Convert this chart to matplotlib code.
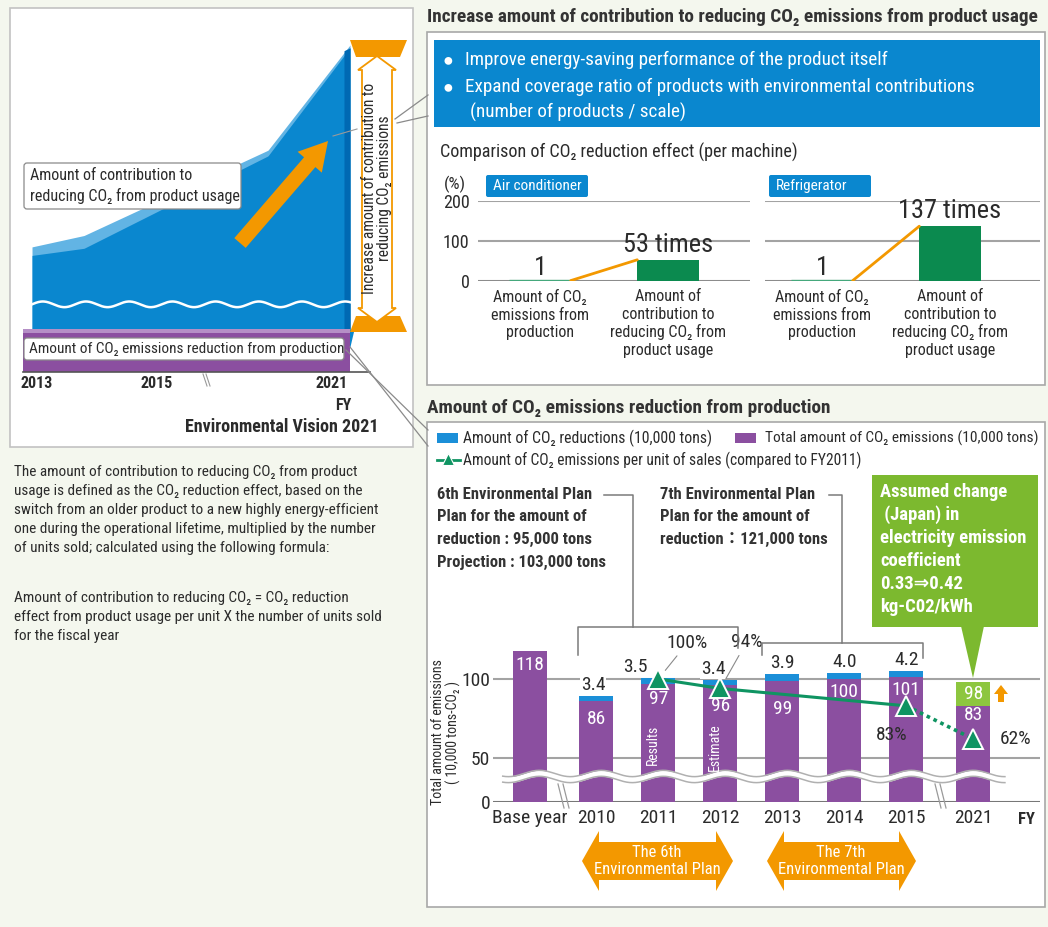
import numpy as np
import matplotlib
matplotlib.use("Agg")
import matplotlib.pyplot as plt
from matplotlib.patches import Polygon, Rectangle, FancyBboxPatch, FancyArrow

plt.rcParams['font.family'] = ['Liberation Sans Narrow', 'Roboto Condensed', 'Liberation Sans',
                               'DejaVu Sans', 'Noto Sans CJK JP']

# ---- data -------------------------------------------------------------
# Environmental Vision 2021 (schematic area, FY2013 -> FY2021)
vision_steps = [0, 1.3, 5.9, 7.95]
vision_upper = [29, 33, 63, 100]
vision_lower = [26, 28.5, 61, 99]

# comparison of CO2 reduction effect per machine (%)
compare_labels = ["Amount of CO₂\nemissions from\nproduction",
                  "Amount of\ncontribution to\nreducing CO₂ from\nproduct usage"]
aircon_ratio = [1, 53]
fridge_ratio = [1, 137]

# emissions from production (10,000 tons)
years = ["Base year", "2010", "2011", "2012", "2013", "2014", "2015", "2021"]
total_emissions = [118, 86, 97, 96, 99, 100, 101, 83]
co2_reductions = [None, 3.4, 3.5, 3.4, 3.9, 4.0, 4.2, None]
total_2021_adjusted = 98
intensity_years = ["2011", "2012", "2015", "2021"]
intensity_pct = [100, 94, 83, 62]

# ---- style --------------------------------------------------------------
BG = "#f4f7ee"
DARK = "#2b2b2b"
BLUE = "#0a87cf"
LIGHT_BLUE = "#62b4e4"
PURPLE = "#8b4fa0"
RED_BLUE = "#1b8fd8"
GREEN = "#0f9462"
BAR_GREEN = "#0b8a4f"
PALE_GREEN = "#45a87c"
LIME = "#7cb92f"
ORANGE = "#f39800"
GRID = "#a3a3a3"

W, H = 1048, 927
fig = plt.figure(figsize=(W / 100, H / 100), dpi=100)
fig.patch.set_facecolor(BG)
bg = fig.add_axes([0, 0, 1, 1])
fg = fig.add_axes([0, 0, 1, 1], zorder=5)
for a in (bg, fg):
    a.set_xlim(0, W)
    a.set_ylim(H, 0)
    a.axis("off")
fg.patch.set_alpha(0)


def px_axes(x0, y0, x1, y1):
    a = fig.add_axes([x0 / W, 1 - y1 / H, (x1 - x0) / W, (y1 - y0) / H])
    a.set_facecolor("none")
    for s in a.spines.values():
        s.set_visible(False)
    return a


def txt(x, y, s, size, color=DARK, ha="left", va="center", **kw):
    return fg.text(x, y, s, fontsize=size, color=color, ha=ha, va=va, **kw)


def hdouble(x0, x1, yc, body, head, hl, color):
    pts = [(x0, yc), (x0 + hl, yc - head / 2), (x0 + hl, yc - body / 2),
           (x1 - hl, yc - body / 2), (x1 - hl, yc - head / 2), (x1, yc),
           (x1 - hl, yc + head / 2), (x1 - hl, yc + body / 2),
           (x0 + hl, yc + body / 2), (x0 + hl, yc + head / 2)]
    fg.add_patch(Polygon(pts, closed=True, fc=color, ec="none"))


# ---- panels -------------------------------------------------------------
bg.add_patch(Rectangle((10, 8), 403, 439, fc="white", ec="#c2c2c2", lw=1.2))
bg.add_patch(Rectangle((427, 32), 618, 353, fc="white", ec="#a8a8a8", lw=1.2))
bg.add_patch(Rectangle((427, 422), 618, 485, fc="white", ec="#a8a8a8", lw=1.2))

# leader lines between panels
fg.plot([395, 428], [119, 95], color="#8a8a8a", lw=0.9)
fg.plot([397, 428], [123, 116], color="#8a8a8a", lw=0.9)
fg.plot([346, 428], [350, 430], color="#8a8a8a", lw=0.9)
fg.plot([350, 428], [347, 446], color="#8a8a8a", lw=0.9)

# ---- left: Environmental Vision 2021 -------------------------------------
lx = px_axes(23, 45, 370, 372)
lx.set_xlim(-0.225, 8.45)
lx.set_ylim(-15, 100)
lx.set_xticks([])
lx.set_yticks([])
xs = np.linspace(vision_steps[0], vision_steps[-1], 300)
lx.fill_between(xs, 0, np.interp(xs, vision_steps, vision_upper), color=LIGHT_BLUE, lw=0)
lx.fill_between(xs, 0, np.interp(xs, vision_steps, vision_lower), color=BLUE, lw=0)
lx.fill_between([7.8, 7.95], 0, [98, 99], color="#0069b3", lw=0)
lx.fill_between([7.8, 7.95, 8.05], [-12, -6, 0], [0, 0, 0], color=BLUE, lw=0)
lx.fill_between([-0.225, 7.75, 7.95], -15, [0, 0, 0], color=PURPLE, lw=0)
lx.fill_between([-0.225, 7.75, 7.95], -1.3, [0, 0, 0], color="#b58fc6", lw=0)
wx = np.linspace(0, 7.95, 400)
lx.plot(wx, 8.8 + 1.0 * np.sin(2 * np.pi * wx / 1.08), color="white", lw=1.8)
lx.plot([-0.225, 8.45], [-15, -15], color="#555555", lw=1.2, clip_on=False)

# orange growth arrow
fg.add_patch(FancyArrow(240, 243, 88, -102, width=15, head_width=32, head_length=28,
                        length_includes_head=True, fc=ORANGE, ec="none"))
fg.plot([333, 357], [136, 129], color="#9a9a9a", lw=0.8)

# bracket on the right of the area
fg.add_patch(Polygon([(350, 40), (407, 40), (400, 57), (356, 57)], fc=ORANGE, ec="none"))
fg.add_patch(Polygon([(350, 332), (407, 332), (400, 316), (356, 316)], fc=ORANGE, ec="none"))
bpts = [(377, 56), (396, 70), (392, 70), (392, 308), (396, 308), (377, 322),
        (358, 308), (362, 308), (362, 70), (358, 70)]
fg.add_patch(Polygon(bpts, closed=True, fc="white", ec=ORANGE, lw=1.3))
txt(377, 188, "Increase amount of contribution to\nreducing CO₂ emissions", 11.2,
    ha="center", rotation=90, linespacing=1.0)

fg.add_patch(FancyBboxPatch((24, 163), 217, 46, boxstyle="round,pad=0,rounding_size=3",
                            fc="white", ec="#8a8a8a", lw=0.9))
txt(30, 186, "Amount of contribution to\nreducing CO₂ from product usage", 11.5, linespacing=1.4)
fg.add_patch(FancyBboxPatch((24, 338), 320, 22, boxstyle="round,pad=0,rounding_size=3",
                            fc="white", ec="#8a8a8a", lw=0.9))
txt(29, 349, "Amount of CO₂ emissions reduction from production", 11)

fg.plot([203, 207], [374, 386], color="#9a9a9a", lw=0.8)
fg.plot([206, 210], [374, 386], color="#9a9a9a", lw=0.8)
txt(37, 384, "2013", 11.5, ha="center", weight="bold")
txt(157, 384, "2015", 11.5, ha="center", weight="bold")
txt(332, 384, "2021", 11.5, ha="center", weight="bold")
txt(343, 406, "FY", 11.5, ha="center", weight="bold")
txt(282, 427, "Environmental Vision 2021", 13, ha="center", weight="bold")

note_lines = ["The amount of contribution to reducing CO₂ from product",
              "usage is defined as the CO₂ reduction effect, based on the",
              "switch from an older product to a new highly energy-efficient",
              "one during the operational lifetime, multiplied by the number",
              "of units sold; calculated using the following formula:"]
for i, line in enumerate(note_lines):
    txt(14, 472 + 19 * i, line, 11)
formula_lines = ["Amount of contribution to reducing CO₂ = CO₂ reduction",
                 "effect from product usage per unit X the number of units sold",
                 "for the fiscal year"]
for i, line in enumerate(formula_lines):
    txt(14, 598 + 19 * i, line, 11)

# ---- top right: product usage --------------------------------------------
txt(427, 17, "Increase amount of contribution to reducing CO₂ emissions from product usage",
    13.9, weight="bold", color="#333333")
bg.add_patch(Rectangle((434, 40), 606, 87, fc=BLUE, ec="none"))
txt(448, 60, "●", 13, color="white", ha="center")
txt(465, 60, "Improve energy-saving performance of the product itself", 13.8, color="white")
txt(448, 87, "●", 13, color="white", ha="center")
txt(465, 87, "Expand coverage ratio of products with environmental contributions", 13.8, color="white")
txt(470, 112, "(number of products / scale)", 13.8, color="white")
txt(440, 152, "Comparison of CO₂ reduction effect (per machine)", 13.1)
txt(455, 184, "(%)", 12.5, ha="center")

for bx, name in [(486, "Air conditioner"), (769, "Refrigerator")]:
    fg.add_patch(FancyBboxPatch((bx, 175), 102, 22, boxstyle="round,pad=0,rounding_size=2",
                                fc=BLUE, ec="none"))
    txt(bx + 7, 186, name, 11, color="white")

for (x0, x1, c0), ratio, show_y in [((478, 750, 540), aircon_ratio, True),
                                    ((765, 1040, 822), fridge_ratio, False)]:
    cx = px_axes(x0, 201, x1, 281)
    cx.set_ylim(0, 200)
    cx.set_xlim((x0 - c0) / 128, (x1 - c0) / 128)
    for g in (100, 200):
        cx.axhline(g, color=GRID, lw=1.5, zorder=0)
    cx.axhline(0, color="#8c8c8c", lw=1.5, zorder=0)
    cx.bar([0], ratio[:1], width=0.48, color=PALE_GREEN, ec=PALE_GREEN, lw=2.4, zorder=2)
    cx.bar([1], ratio[1:], width=0.48, color=BAR_GREEN, lw=0, zorder=2)
    cx.plot([0.24, 0.76], ratio, color=ORANGE, lw=2, zorder=3, solid_capstyle="round")
    cx.annotate(f"{ratio[0]}", (0, ratio[0]), xytext=(0, 13), textcoords="offset pixels",
                ha="center", va="center", fontsize=19, color=DARK)
    cx.annotate(f"{ratio[1]} times", (1, ratio[1]), xytext=(0, 15), textcoords="offset pixels",
                ha="center", va="center", fontsize=19, color=DARK)
    cx.set_xticks([0, 1], compare_labels, fontsize=11.5, linespacing=1.2, color=DARK)
    cx.tick_params(axis="x", length=0, pad=6)
    if show_y:
        cx.set_yticks([0, 100, 200], ["0", "100", "200"], fontsize=13, color=DARK)
        cx.tick_params(axis="y", length=0, pad=6)
    else:
        cx.set_yticks([])

# ---- bottom right: production ---------------------------------------------
txt(427, 408, "Amount of CO₂ emissions reduction from production", 13.9, weight="bold", color="#333333")
fg.add_patch(Rectangle((437, 433), 21, 10, fc=RED_BLUE, ec="none"))
txt(463, 438, "Amount of CO₂ reductions (10,000 tons)", 11.3)
fg.add_patch(Rectangle((735, 433), 21, 10, fc=PURPLE, ec="none"))
txt(765, 438, "Total amount of CO₂ emissions (10,000 tons)", 11.1)
fg.plot([437, 460], [460, 460], color=GREEN, lw=2)
fg.plot([448], [459], marker="^", ms=9, color=GREEN, mec="white", mew=0.8)
txt(463, 460, "Amount of CO₂ emissions per unit of sales (compared to FY2011)", 11.2)

plan6 = ["6th Environmental Plan", "Plan for the amount of", "reduction : 95,000 tons",
         "Projection : 103,000 tons"]
for i, line in enumerate(plan6):
    txt(437, 494 + 22.7 * i, line, 12, weight="bold", color="#333333")
plan7 = ["7th Environmental Plan", "Plan for the amount of", "reduction：121,000 tons"]
for i, line in enumerate(plan7):
    txt(660, 494 + 22.7 * i, line, 12, weight="bold", color="#333333")

LINE = "#7a7a7a"
fg.plot([604, 633, 633], [495, 495, 627], color=LINE, lw=1.1)
fg.plot([578, 578, 738, 738], [655, 627, 627, 648], color=LINE, lw=1.1)
fg.plot([829, 842, 842], [495, 495, 643], color=LINE, lw=1.1)
fg.plot([762, 762, 923, 923], [655, 643, 643, 658], color=LINE, lw=1.1)

fg.add_patch(Rectangle((872, 475), 166, 152, fc=LIME, ec="none"))
fg.add_patch(Polygon([(961, 626), (984, 626), (973, 678)], fc=LIME, ec="none"))
callout = ["Assumed change", " (Japan) in", "electricity emission", "coefficient",
           "0.33⇒0.42", "kg-C02/kWh"]
for i, line in enumerate(callout):
    txt(880, 492 + 23 * i, line, 13.4, color="white", weight="bold")

SQ, BRK = 0.557, 50


def fwd(v):
    v = np.asarray(v, dtype=float)
    return np.where(v < BRK, v * SQ, BRK * SQ + (v - BRK))


def inv(u):
    u = np.asarray(u, dtype=float)
    return np.where(u < BRK * SQ, u / SQ, u - BRK * SQ + BRK)


Y0, PXU, YMAX, BASE_PX, SPACE = 802, 1.58, 127, 530, 62
top_px = Y0 - float(fwd(YMAX)) * PXU
ax = px_axes(493, top_px, 1040, Y0)
ax.set_yscale("function", functions=(fwd, inv))
ax.set_ylim(0, YMAX)
ax.set_xlim((493 - BASE_PX) / SPACE, (1040 - BASE_PX) / SPACE)

xpos = np.arange(len(years), dtype=float)
xpos[1:] += 0.07
xpos[-1] += 0.08

for g in (50, 100):
    ax.axhline(g, color=GRID, lw=1.5, zorder=0)
ax.axhline(0, color="#777777", lw=1.5, zorder=0)

ax.bar(xpos, total_emissions, width=0.55, color=PURPLE, lw=0, zorder=2)
red_idx = [i for i, r in enumerate(co2_reductions) if r is not None]
ax.bar(xpos[red_idx], [co2_reductions[i] for i in red_idx],
       bottom=[total_emissions[i] for i in red_idx], width=0.55, color=RED_BLUE, lw=0, zorder=2)
ax.bar(xpos[-1:], [total_2021_adjusted - total_emissions[-1]], bottom=total_emissions[-1:],
       width=0.55, color="#8dc63f", lw=0, zorder=2)

# wavy axis break over bars
wx = np.linspace(-0.44, 7.66, 500)
wc = 29 + 3.6 * np.sin(2 * np.pi * (wx + 0.1) / 1.0)
ax.fill_between(wx, wc - 3.4, wc + 3.4, color="white", lw=0, zorder=4)
ax.plot(wx, wc - 3.4, color="#b0b0b0", lw=1.1, zorder=5)
ax.plot(wx, wc + 3.4, color="#b0b0b0", lw=1.1, zorder=5)

# purple values inside bars
in_off = [14, 18, 15, 21, 28, 13, 13, 9]
for x, v, off in zip(xpos, total_emissions, in_off):
    ax.annotate(f"{v}", (x, v), xytext=(0, -off), textcoords="offset pixels",
                ha="center", va="center", fontsize=14, color="white", zorder=6)
ax.annotate(f"{total_2021_adjusted}", (xpos[-1], total_2021_adjusted), xytext=(0, -12),
            textcoords="offset pixels", ha="center", va="center", fontsize=14,
            color="white", zorder=6)

# reduction values above bars
red_dx = [0, -3, -23, -7, 0, 0, 0, 0]
for i in red_idx:
    top = total_emissions[i] + co2_reductions[i]
    ax.annotate(f"{co2_reductions[i]:.1f}", (xpos[i], top), xytext=(red_dx[i], 11),
                textcoords="offset pixels", ha="center", va="center", fontsize=14,
                color=DARK, zorder=6, bbox=dict(fc="white", ec="none", pad=0.6))

ax.text(xpos[2] - 0.09, 58.2, "Results", rotation=90, ha="center", va="center",
        fontsize=10, color="white", zorder=6)
ax.text(xpos[3] - 0.09, 56.8, "Estimate", rotation=90, ha="center", va="center",
        fontsize=10, color="white", zorder=6)

# per-unit-of-sales line
ix = [xpos[years.index(y)] for y in intensity_years]
ax.plot(ix[:3], intensity_pct[:3], color=GREEN, lw=2.2, zorder=7)
ax.plot(ix[2:], intensity_pct[2:], color=GREEN, lw=2.6, ls=(0, (1, 1.1)), zorder=7)
ax.plot(ix, intensity_pct, ls="none", marker="^", ms=14, mfc=GREEN, mec="white", mew=1.4, zorder=8)
pct_off = [(29, 36), (26, 46), (-15, -29), (42, 0)]
for x, p, off in zip(ix, intensity_pct, pct_off):
    arrow = dict(arrowstyle="-", color="#8a8a8a", lw=0.8, shrinkA=1, shrinkB=8) if off[1] > 20 else None
    ax.annotate(f"{p}%", (x, p), xytext=off, textcoords="offset pixels", ha="center",
                va="center", fontsize=14, color=DARK, zorder=9, arrowprops=arrow)

ax.set_xticks(xpos, years, fontsize=14, color=DARK)
ax.set_yticks([0, 50, 100], ["0", "50", "100"], fontsize=14, color=DARK)
ax.tick_params(length=0)
ax.tick_params(axis="x", pad=5)
ax.tick_params(axis="y", pad=2)
txt(1026, 819, "FY", 12, ha="center", weight="bold")
txt(446, 732, "Total amount of emissions\n( 10,000 tons-CO₂ )", 10, ha="center",
    rotation=90, linespacing=1.0)

# axis break marks on baseline
for bx in (561, 938):
    fg.plot([bx - 3, bx + 3], [784, 808], color="#9a9a9a", lw=0.9)
    fg.plot([bx + 2, bx + 8], [784, 808], color="#9a9a9a", lw=0.9)

fg.add_patch(FancyArrow(1001, 702, 0, -17, width=6, head_width=14, head_length=9,
                        length_includes_head=True, fc=ORANGE, ec="none"))

hdouble(582, 733, 861, 38, 60, 17, ORANGE)
txt(657, 861, "The 6th\nEnvironmental Plan", 12, color="white", ha="center", linespacing=1.15)
hdouble(767, 916, 861, 38, 60, 17, ORANGE)
txt(841, 861, "The 7th\nEnvironmental Plan", 12, color="white", ha="center", linespacing=1.15)

fig.savefig("out.png", dpi=100, facecolor=BG)
